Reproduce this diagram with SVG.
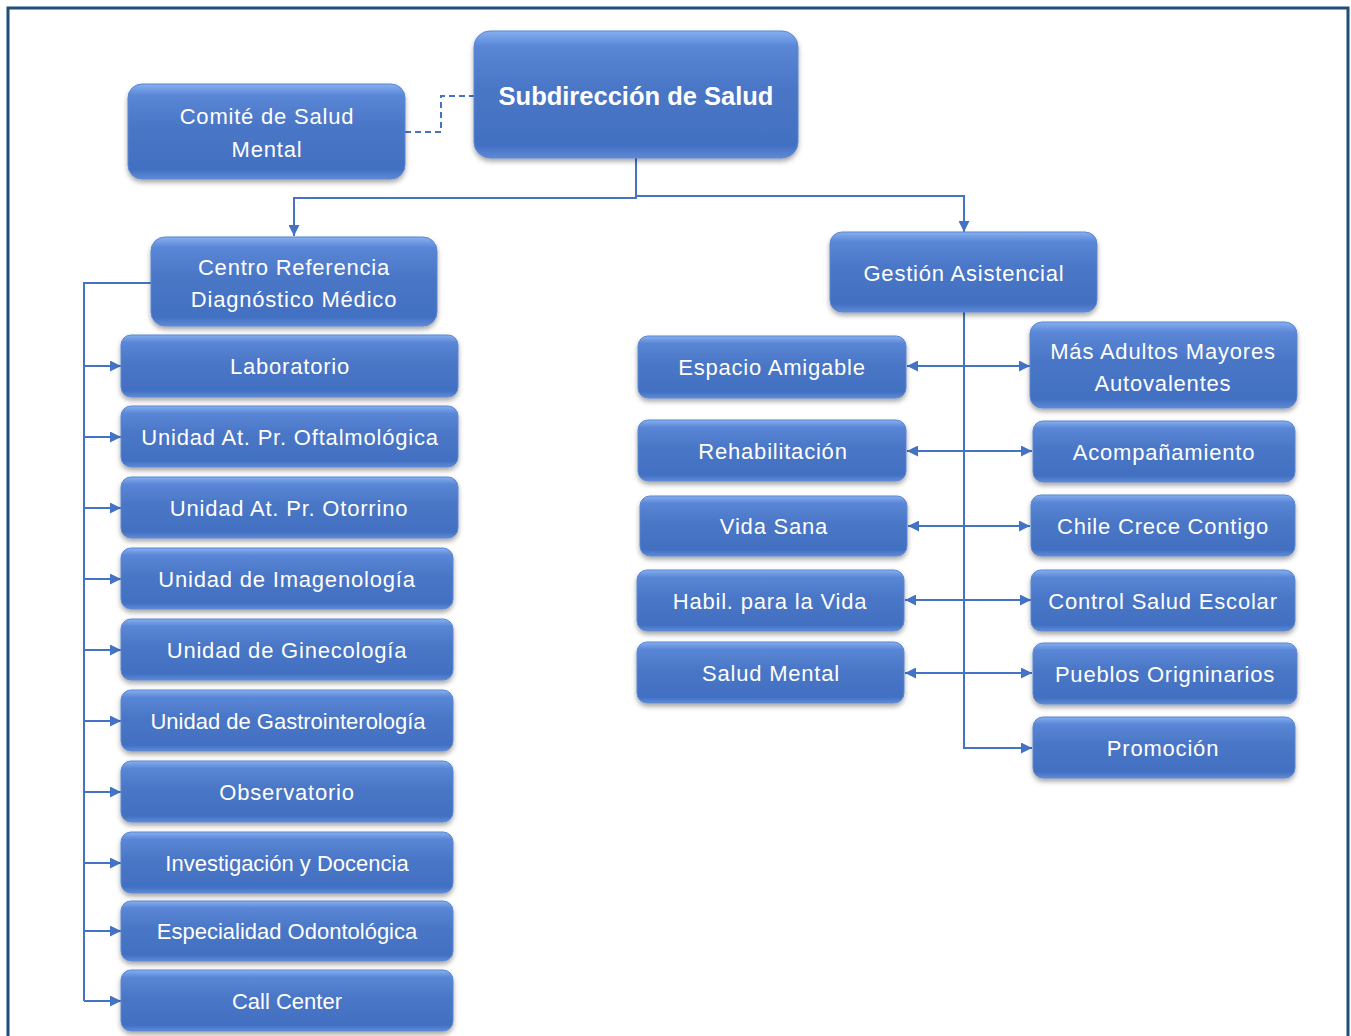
<svg xmlns="http://www.w3.org/2000/svg" width="1351" height="1036" viewBox="0 0 1351 1036">
<defs>
<linearGradient id="g" x1="0" y1="0" x2="0" y2="1">
<stop offset="0" stop-color="#86b0f0"/>
<stop offset="0.12" stop-color="#5a86d6"/>
<stop offset="0.45" stop-color="#4a76c6"/>
<stop offset="0.9" stop-color="#4270c2"/>
<stop offset="1" stop-color="#5f8ad6"/>
</linearGradient>
<filter id="sh" x="-10%" y="-10%" width="120%" height="130%">
<feDropShadow dx="0" dy="3" stdDeviation="2.5" flood-color="#000" flood-opacity="0.35"/>
</filter>
<marker id="ah" viewBox="0 0 10 10" refX="10" refY="5" markerWidth="11" markerHeight="11" markerUnits="userSpaceOnUse" orient="auto-start-reverse">
<path d="M0,0 L10,5 L0,10 z" fill="#4472c4"/>
</marker>
<style>
.box{fill:url(#g);stroke:#5b86d0;stroke-width:1;filter:url(#sh)}
.t{font-family:"Liberation Sans",Arial,sans-serif;font-size:22px;letter-spacing:0.8px;fill:#fff;text-anchor:middle}
.t.n{letter-spacing:0}
.tb{font-family:"Liberation Sans",Arial,sans-serif;font-size:25.5px;font-weight:bold;fill:#fff;text-anchor:middle}
.c{fill:none;stroke:#4472c4;stroke-width:2}
.cd{fill:none;stroke:#4472c4;stroke-width:2;stroke-dasharray:6,4}
</style>
</defs>
<rect x="0" y="0" width="1351" height="1036" fill="#fff"/>
<rect x="8" y="8" width="1340" height="1040" fill="none" stroke="#1f4e79" stroke-width="3"/>

<g id="connectors">
<path class="cd" d="M405,132 H441 V96 H474"/>
<path class="c" d="M636,158 V198 H294 V236" marker-end="url(#ah)"/>
<path class="c" d="M636,196 H964 V232" marker-end="url(#ah)"/>
<path class="c" d="M151,283 H84 V1001"/>
<path class="c" d="M84,366 H121" marker-end="url(#ah)"/>
<path class="c" d="M84,437 H121" marker-end="url(#ah)"/>
<path class="c" d="M84,508 H121" marker-end="url(#ah)"/>
<path class="c" d="M84,579 H121" marker-end="url(#ah)"/>
<path class="c" d="M84,650 H121" marker-end="url(#ah)"/>
<path class="c" d="M84,721 H121" marker-end="url(#ah)"/>
<path class="c" d="M84,792 H121" marker-end="url(#ah)"/>
<path class="c" d="M84,863 H121" marker-end="url(#ah)"/>
<path class="c" d="M84,931 H121" marker-end="url(#ah)"/>
<path class="c" d="M84,1001 H121" marker-end="url(#ah)"/>
<path class="c" d="M964,312 V748 H1032" marker-end="url(#ah)"/>
<path class="c" d="M907,366 H1030" marker-start="url(#ah)" marker-end="url(#ah)"/>
<path class="c" d="M907,451 H1032" marker-start="url(#ah)" marker-end="url(#ah)"/>
<path class="c" d="M908,526 H1030" marker-start="url(#ah)" marker-end="url(#ah)"/>
<path class="c" d="M905,600 H1031" marker-start="url(#ah)" marker-end="url(#ah)"/>
<path class="c" d="M905,673 H1032" marker-start="url(#ah)" marker-end="url(#ah)"/>
</g>

<g id="n-subdireccion"><rect class="box" x="474" y="31" width="324" height="127" rx="16"/><text class="tb" x="636" y="105">Subdirección de Salud</text></g>
<g id="n-comite"><rect class="box" x="128" y="84" width="277" height="95" rx="14"/><text class="t" x="267" y="124">Comité de Salud</text><text class="t" x="267" y="157">Mental</text></g>
<g id="n-centro"><rect class="box" x="151" y="237" width="286" height="89" rx="14"/><text class="t" x="294" y="275">Centro Referencia</text><text class="t" x="294" y="307">Diagnóstico Médico</text></g>
<g id="n-gestion"><rect class="box" x="830" y="232" width="267" height="80" rx="12"/><text class="t" x="964" y="281">Gestión Asistencial</text></g>

<g id="n-laboratorio"><rect class="box" x="121" y="335" width="337" height="62" rx="10"/><text class="t" x="290" y="374">Laboratorio</text></g>
<g id="n-oftalmologica"><rect class="box" x="121" y="406" width="337" height="61" rx="10"/><text class="t" x="290" y="445">Unidad At. Pr. Oftalmológica</text></g>
<g id="n-otorrino"><rect class="box" x="121" y="477" width="337" height="61" rx="10"/><text class="t" x="289" y="516">Unidad At. Pr. Otorrino</text></g>
<g id="n-imagenologia"><rect class="box" x="121" y="548" width="332" height="61" rx="10"/><text class="t" x="287" y="587">Unidad de Imagenología</text></g>
<g id="n-ginecologia"><rect class="box" x="121" y="619" width="332" height="61" rx="10"/><text class="t" x="287" y="658">Unidad de Ginecología</text></g>
<g id="n-gastro"><rect class="box" x="121" y="690" width="332" height="61" rx="10"/><text class="t n" x="288" y="729">Unidad de Gastrointerología</text></g>
<g id="n-observatorio"><rect class="box" x="121" y="761" width="332" height="61" rx="10"/><text class="t" x="287" y="800">Observatorio</text></g>
<g id="n-investigacion"><rect class="box" x="121" y="832" width="332" height="61" rx="10"/><text class="t n" x="287" y="871">Investigación y Docencia</text></g>
<g id="n-odontologica"><rect class="box" x="121" y="901" width="332" height="60" rx="10"/><text class="t n" x="287" y="939">Especialidad Odontológica</text></g>
<g id="n-callcenter"><rect class="box" x="121" y="970" width="332" height="61" rx="10"/><text class="t n" x="287" y="1009">Call Center</text></g>

<g id="n-espacio"><rect class="box" x="638" y="336" width="268" height="62" rx="10"/><text class="t" x="772" y="375">Espacio Amigable</text></g>
<g id="n-rehab"><rect class="box" x="638" y="420" width="268" height="61" rx="10"/><text class="t" x="773" y="459">Rehabilitación</text></g>
<g id="n-vidasana"><rect class="box" x="640" y="496" width="267" height="60" rx="10"/><text class="t" x="774" y="534">Vida Sana</text></g>
<g id="n-habil"><rect class="box" x="637" y="570" width="267" height="61" rx="10"/><text class="t" x="770" y="609">Habil. para la Vida</text></g>
<g id="n-saludmental"><rect class="box" x="637" y="642" width="267" height="61" rx="10"/><text class="t" x="771" y="681">Salud Mental</text></g>

<g id="n-adultos"><rect class="box" x="1030" y="322" width="267" height="86" rx="12"/><text class="t" x="1163" y="359">Más Adultos Mayores</text><text class="t" x="1163" y="391">Autovalentes</text></g>
<g id="n-acomp"><rect class="box" x="1033" y="421" width="262" height="61" rx="10"/><text class="t" x="1164" y="460">Acompañamiento</text></g>
<g id="n-chile"><rect class="box" x="1031" y="495" width="264" height="61" rx="10"/><text class="t" x="1163" y="534">Chile Crece Contigo</text></g>
<g id="n-escolar"><rect class="box" x="1031" y="570" width="264" height="61" rx="10"/><text class="t" x="1163" y="609">Control Salud Escolar</text></g>
<g id="n-pueblos"><rect class="box" x="1033" y="643" width="264" height="61" rx="10"/><text class="t" x="1165" y="682">Pueblos Origninarios</text></g>
<g id="n-promocion"><rect class="box" x="1033" y="717" width="262" height="61" rx="10"/><text class="t" x="1163" y="756">Promoción</text></g>
</svg>
